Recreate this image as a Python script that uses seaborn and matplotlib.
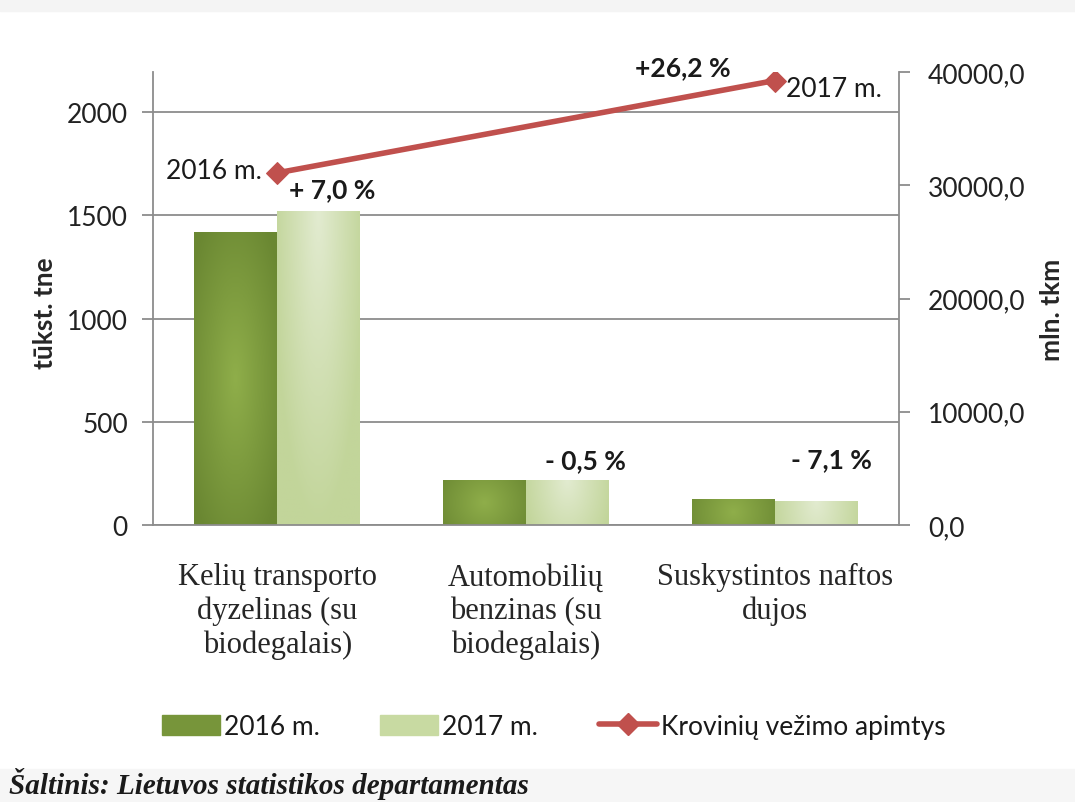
import numpy as np
import pandas as pd
import seaborn as sns
import matplotlib.pyplot as plt
from matplotlib.lines import Line2D
from matplotlib.patches import Patch, Rectangle
from matplotlib.colors import LinearSegmentedColormap
from matplotlib.ticker import FuncFormatter

# data
categories = ["Kelių transporto\ndyzelinas (su\nbiodegalais)",
              "Automobilių\nbenzinas (su\nbiodegalais)",
              "Suskystintos naftos\ndujos"]
years = ["2016 m.", "2017 m."]
fuel_2016 = [1420, 218, 122]   # tūkst. tne
fuel_2017 = [1520, 217, 113]
fuel_change = ["+ 7,0 %", "- 0,5 %", "- 7,1 %"]
freight_at = [categories[0], categories[2]]
freight_labels = ["2016 m.", "2017 m."]
freight_vals = [31100, 39250]  # mln. tkm
freight_change = "+26,2 %"
line_name = "Krovinių vežimo apimtys"

dark = "#77953A"
light = "#C8DAA2"
red = "#C0504D"
grey = "#8C8C8C"

df = pd.DataFrame({"cat": categories * 2,
                   "year": [years[0]] * 3 + [years[1]] * 3,
                   "val": fuel_2016 + fuel_2017})

sns.set_style("white")
plt.rcParams["font.family"] = ["Lato", "DejaVu Sans"]
plt.rcParams["text.color"] = "#1a1a1a"

fig = plt.figure(figsize=(10.75, 8.03), dpi=100)
ax = fig.add_axes([0.1423, 0.345, 0.694, 0.564])

sns.barplot(data=df, x="cat", y="val", hue="year", palette=[dark, light],
            saturation=1, width=2/3, linewidth=0, legend=False, ax=ax)

# soft gradient fill on the bars, like the excel original
cmaps = [LinearSegmentedColormap.from_list("d", ["#8FAE4A", "#6A8732"]),
         LinearSegmentedColormap.from_list("l", ["#E2EBD0", "#C2D59A"])]
yy, xx = np.mgrid[-1:1:80j, -1:1:80j]
for k, cont in enumerate(ax.containers):
    for p in cont:
        x0, y0, w, h = p.get_x(), p.get_y(), p.get_width(), p.get_height()
        if k == 0:
            r = np.clip(np.hypot(xx, yy * min(1, h / 400)) / 1.3, 0, 1)
        else:
            r = np.clip(np.hypot(xx * 0.9, (yy + 1) * 0.5 * min(1, h / 400)), 0, 1)
        ax.imshow(r, extent=[x0, x0 + w, y0, y0 + h], cmap=cmaps[k],
                  vmin=0, vmax=1, aspect="auto", origin="upper", zorder=2)

ax.set_xlim(-0.5, 2.5)
ax.set_ylim(0, 2195)
ax.set_yticks([0, 500, 1000, 1500, 2000])
ax.yaxis.grid(True, color=grey, lw=1.3)
ax.set_axisbelow(True)

ax.set_xticks([-0.5, 0.5, 1.5, 2.5], ["", "", "", ""])
ax.set_xticks([0, 1, 2], categories, minor=True)
ax.tick_params(axis="x", which="major", length=8, width=1.3, color=grey)
ax.tick_params(axis="x", which="minor", length=0, pad=27, labelsize=22)
for lbl in ax.get_xticklabels(minor=True):
    lbl.set_fontfamily("Liberation Serif")
ax.tick_params(axis="y", length=8, width=1.3, color=grey, pad=10,
               labelsize=19, labelcolor="#222222")
ax.set_xlabel("")
ax.set_ylabel("tūkst. tne", fontsize=19, fontweight="bold")
ax.yaxis.set_label_coords(-0.145, 0.47)
ax.yaxis.label.set_va("center")
for s in ["top", "right"]:
    ax.spines[s].set_visible(False)
for s in ["left", "bottom"]:
    ax.spines[s].set_color(grey)
    ax.spines[s].set_linewidth(1.3)

# percentage change over the 2017 bars
offsets = [(10, 7), (13, 6), (11, 22)]
for i, txt in enumerate(fuel_change):
    ax.annotate(txt, (i + 1/6, fuel_2017[i]), xytext=offsets[i],
                textcoords="offset points", ha="center", va="bottom",
                fontsize=19, fontweight="bold")

# freight volume line on the right axis
ax2 = ax.twinx()
line_x = [categories.index(c) for c in freight_at]
sns.lineplot(x=line_x, y=freight_vals, ax=ax2, color=red, lw=4,
             marker="D", markersize=11, markeredgecolor=red, zorder=5)
ax2.set_xlim(-0.5, 2.5)
ax2.set_ylim(0, 40000)
ax2.set_yticks([0, 10000, 20000, 30000, 40000])
ax2.yaxis.set_major_formatter(FuncFormatter(lambda v, p: f"{v:.1f}".replace(".", ",")))
ax2.tick_params(axis="y", length=8, width=1.3, color=grey, pad=13,
                labelsize=19, labelcolor="#222222")
ax2.set_ylabel("mln. tkm", fontsize=19, fontweight="bold")
ax2.yaxis.set_label_coords(1.205, 0.477)
ax2.yaxis.label.set_va("center")
for s in ["top", "left", "bottom"]:
    ax2.spines[s].set_visible(False)
ax2.spines["right"].set_color(grey)
ax2.spines["right"].set_linewidth(1.3)

ax2.annotate(freight_labels[0], (line_x[0], freight_vals[0]), xytext=(-11, 2),
             textcoords="offset points", ha="right", va="center", fontsize=19)
ax2.annotate(freight_labels[1], (line_x[1], freight_vals[1]), xytext=(8, -6),
             textcoords="offset points", ha="left", va="center", fontsize=19)
ax2.annotate(freight_change, (line_x[1], freight_vals[1]), xytext=(-66, 10),
             textcoords="offset points", ha="center", va="center",
             fontsize=19, fontweight="bold")

handles = [Patch(color=dark), Patch(color=light),
           Line2D([], [], color=red, lw=4, marker="D", markersize=11)]
fig.legend(handles, years + [line_name], loc="center", bbox_to_anchor=(0.515, 0.094),
           ncol=3, frameon=False, fontsize=19, handlelength=2.2, handleheight=0.8,
           handletextpad=0.15, columnspacing=2.3)

# page bits around the chart
fig.patches.append(Rectangle((0, 1 - 12/803), 1, 12/803, transform=fig.transFigure,
                             color="#f4f4f4", zorder=-1))
fig.patches.append(Rectangle((0, 0), 1, 33/803, transform=fig.transFigure,
                             color="#f6f6f6", zorder=-1))
fig.text(0.008, 0.011, "Šaltinis: Lietuvos statistikos departamentas",
         fontfamily="Liberation Serif", fontweight="bold", fontstyle="italic",
         fontsize=21, va="baseline")

plt.savefig("out.png", dpi=100)
